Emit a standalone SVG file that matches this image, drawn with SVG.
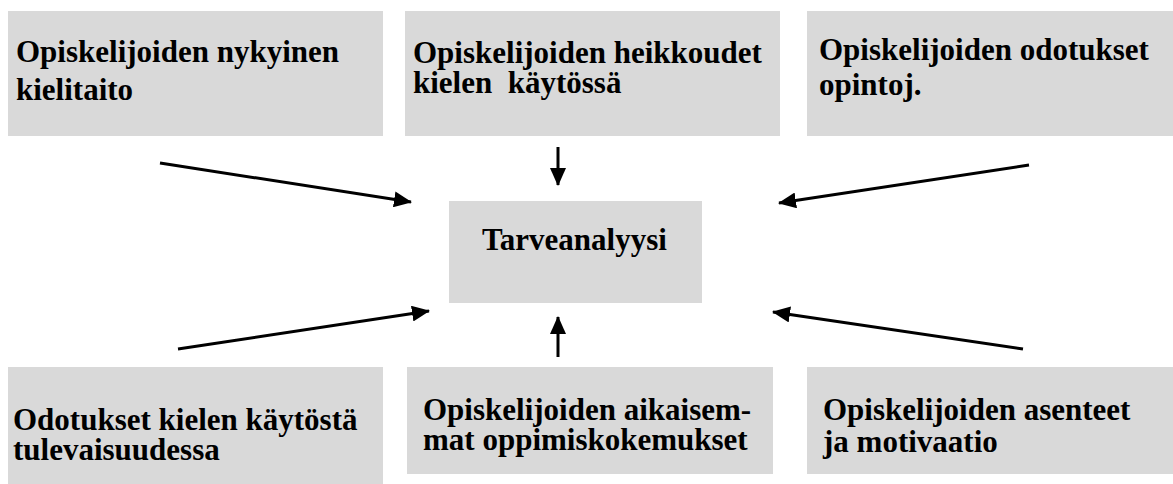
<svg xmlns="http://www.w3.org/2000/svg" width="1173" height="484" viewBox="0 0 1173 484">
  <style>
    .box { fill: #d9d9d9; }
    .lbl { font-family: "Liberation Serif", "Times New Roman", serif; font-weight: bold; font-size: 31px; fill: #000; }
    .conn { stroke: #000; stroke-width: 3; fill: none; marker-end: url(#head); }
  </style>
  <defs>
    <marker id="head" markerUnits="userSpaceOnUse" markerWidth="18" markerHeight="16" refX="17" refY="8" orient="auto">
      <path d="M0,0 L18,8 L0,16 Z" fill="#000"/>
    </marker>
  </defs>

  <!-- top row -->
  <g id="node-nykyinen">
    <rect class="box" x="8" y="11" width="375" height="125"/>
    <text class="lbl" x="16" y="62">Opiskelijoiden nykyinen</text>
    <text class="lbl" x="16" y="100">kielitaito</text>
  </g>
  <g id="node-heikkoudet">
    <rect class="box" x="405" y="11" width="375" height="125"/>
    <text class="lbl" x="413" y="63">Opiskelijoiden heikkoudet</text>
    <text class="lbl" x="413" y="93" xml:space="preserve">kielen  käytössä</text>
  </g>
  <g id="node-odotukset">
    <rect class="box" x="807" y="11" width="366" height="125"/>
    <text class="lbl" x="819" y="60">Opiskelijoiden odotukset</text>
    <text class="lbl" x="819" y="95">opintoj.</text>
  </g>

  <!-- centre -->
  <g id="node-tarveanalyysi">
    <rect class="box" x="449" y="201" width="253" height="102"/>
    <text class="lbl" x="482" y="250">Tarveanalyysi</text>
  </g>

  <!-- bottom row -->
  <g id="node-tulevaisuus">
    <rect class="box" x="8" y="367" width="375" height="117"/>
    <text class="lbl" x="13" y="430">Odotukset kielen käytöstä</text>
    <text class="lbl" x="13" y="460">tulevaisuudessa</text>
  </g>
  <g id="node-oppimiskokemukset">
    <rect class="box" x="407" y="367" width="366" height="107"/>
    <text class="lbl" x="423" y="420">Opiskelijoiden aikaisem-</text>
    <text class="lbl" x="423" y="450">mat oppimiskokemukset</text>
  </g>
  <g id="node-asenteet">
    <rect class="box" x="807" y="367" width="366" height="107"/>
    <text class="lbl" x="823" y="420">Opiskelijoiden asenteet</text>
    <text class="lbl" x="823" y="452">ja motivaatio</text>
  </g>

  <!-- connectors -->
  <g id="connectors">
    <line class="conn" x1="160" y1="163" x2="411" y2="202"/>
    <line class="conn" x1="558" y1="147" x2="558" y2="185"/>
    <line class="conn" x1="1029" y1="165" x2="779" y2="203"/>
    <line class="conn" x1="178" y1="349" x2="429" y2="311"/>
    <line class="conn" x1="558" y1="357" x2="558" y2="317"/>
    <line class="conn" x1="1023" y1="349" x2="773" y2="312"/>
  </g>
</svg>
